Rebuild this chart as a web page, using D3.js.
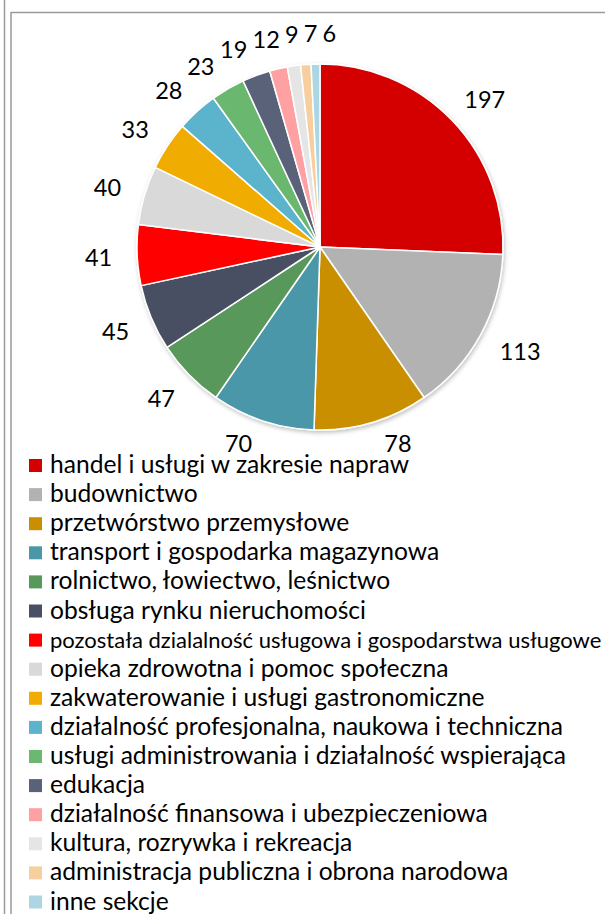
<!DOCTYPE html>
<html>
<head>
<meta charset="utf-8">
<script src="https://cdn.jsdelivr.net/npm/d3@7"></script>
<style>
    html, body { margin: 0; padding: 0; background: #ffffff; }
    svg { display: block; }
</style>
</head>
<body>
<svg id="chart"></svg>
<script>
// sekcje PKD, clockwise from 12 o'clock
const categories = [
    'handel i usługi w zakresie napraw',
    'budownictwo',
    'przetwórstwo przemysłowe',
    'transport i gospodarka magazynowa',
    'rolnictwo, łowiectwo, leśnictwo',
    'obsługa rynku nieruchomości',
    'pozostała dzialalność usługowa i gospodarstwa usługowe',
    'opieka zdrowotna i pomoc społeczna',
    'zakwaterowanie i usługi gastronomiczne',
    'działalność profesjonalna, naukowa i techniczna',
    'usługi administrowania i działalność wspierająca',
    'edukacja',
    'działalność finansowa i ubezpieczeniowa',
    'kultura, rozrywka i rekreacja',
    'administracja publiczna i obrona narodowa',
    'inne sekcje'
];
const values = [197, 113, 78, 70, 47, 45, 41, 40, 33, 28, 23, 19, 12, 9, 7, 6];
const colors = [
    '#d40000', '#b2b2b2', '#c98f00', '#4a97a8', '#58985a', '#4a5064',
    '#ff0000', '#d9d9d9', '#f0ac00', '#5bb4cc', '#6bb870', '#5a627a',
    '#ffa0a2', '#e5e5e5', '#f7cf9f', '#add6e4'
];

class PieChart {
    constructor (selector) {
        this.w = 605;
        this.h = 914;
        this.svg = d3.select(selector)
            .attr('width', this.w)
            .attr('height', this.h);

        this.cx = 320;
        this.cy = 247;
        this.r = 183;
        this.font = 'Lato, "Open Sans", sans-serif';
    }
    draw () {
        this.drawFrame();
        this.drawPie();
        this.drawLabels();
        this.drawLegend();
    }
    drawFrame () {
        let frame = this.svg.append('g').attr('class', 'frame');
        let lines = [
            { x1: 4.5, x2: 4.5, y1: 0, y2: this.h },
            { x1: 11, x2: 11, y1: 12, y2: this.h },
            { x1: 11, x2: this.w, y1: 12.5, y2: 12.5 },
        ];

        frame.selectAll('line')
            .data(lines)
            .enter()
            .append('line')
            .attr('x1', (d) => { return d.x1; })
            .attr('y1', (d) => { return d.y1; })
            .attr('x2', (d) => { return d.x2; })
            .attr('y2', (d) => { return d.y2; })
            .attr('stroke', '#9a9a9a')
            .attr('stroke-width', 1.5);
    }
    pieData () {
        if (this._arcs)
            return this._arcs;

        let pie = d3.pie()
            .value((d) => { return d.value; })
            .sort(null);

        let data = values.map((v, i) => {
            return { value: v, color: colors[i], name: categories[i] };
        });

        this._arcs = pie(data);

        return this._arcs;
    }
    drawPie () {
        let defs = this.svg.append('defs');
        let filter = defs.append('filter')
            .attr('id', 'shadow')
            .attr('x', '-10%').attr('y', '-10%')
            .attr('width', '120%').attr('height', '120%');

        filter.append('feDropShadow')
            .attr('dx', 1)
            .attr('dy', 2)
            .attr('stdDeviation', 2)
            .attr('flood-color', '#000000')
            .attr('flood-opacity', 0.25);

        let arc = d3.arc()
            .innerRadius(0)
            .outerRadius(this.r);

        this.svg.append('g')
            .attr('class', 'pie')
            .attr('transform', 'translate(' + this.cx + ',' + this.cy + ')')
            .attr('filter', 'url(#shadow)')
            .selectAll('path.slice')
            .data(this.pieData())
            .enter()
            .append('path')
            .attr('class', 'slice')
            .attr('d', arc)
            .attr('fill', (d) => { return d.data.color; })
            .attr('stroke', '#ffffff')
            .attr('stroke-width', 1.5)
            .attr('stroke-linejoin', 'round');
    }
    labelPos (b) {
        let rx = 208;
        let ry = 215;
        let maxY = 196; // keep labels above the legend

        let x = (rx + b.w / 2) * Math.sin(b.phi);
        let y = -ry * Math.cos(b.phi) + 1;

        if (y > maxY) {
            // slide along the ellipse, then meet half way
            let phi2 = Math.acos(-(maxY - 1) / ry);
            if (Math.sin(b.phi) < 0)
                phi2 = 2 * Math.PI - phi2;
            let x2 = (rx + b.w / 2) * Math.sin(phi2);
            x = (x + x2) / 2;
            y = maxY;
        }

        return { x: x, y: y };
    }
    drawLabels () {
        let g = this.svg.append('g').attr('class', 'labels');
        let padW = 5;
        let padH = 24;

        let texts = g.selectAll('text.label')
            .data(this.pieData())
            .enter()
            .append('text')
            .attr('class', 'label')
            .attr('font-family', this.font)
            .attr('font-size', 23.5)
            .attr('fill', '#000000')
            .attr('text-anchor', 'middle')
            .text((d) => { return d.data.value; });

        let boxes = [];
        texts.each(function (d) {
            boxes.push({
                node: this,
                w: this.getComputedTextLength(),
                phi: (d.startAngle + d.endAngle) / 2
            });
        });

        // spread crowded labels apart along the pie
        for (let it = 0; it < 400; it++) {
            let moved = false;
            for (let i = 0; i < boxes.length - 1; i++) {
                let a = boxes[i];
                let b = boxes[i + 1];
                let pa = this.labelPos(a);
                let pb = this.labelPos(b);
                let ox = (a.w + b.w) / 2 + padW - Math.abs(pa.x - pb.x);
                let oy = padH - Math.abs(pa.y - pb.y);

                if (ox > 0 && oy > 0) {
                    a.phi -= 0.002;
                    b.phi += 0.002;
                    moved = true;
                }
            }
            if (!moved)
                break;
        }

        for (let b of boxes) {
            let p = this.labelPos(b);
            d3.select(b.node)
                .attr('x', this.cx + p.x)
                .attr('y', this.cy + p.y + 8.5);
        }
    }
    drawLegend () {
        let x0 = 29;
        let y0 = 465.5;
        let step = 29.1;
        let size = 13;

        let rows = this.svg.append('g')
            .attr('class', 'legend')
            .selectAll('g.item')
            .data(this.pieData())
            .enter()
            .append('g')
            .attr('class', 'item')
            .attr('transform', (d, i) => {
                return 'translate(' + x0 + ',' + (y0 + i * step) + ')';
            });

        rows.append('rect')
            .attr('x', 0)
            .attr('y', -size / 2)
            .attr('width', size)
            .attr('height', size)
            .attr('fill', (d) => { return d.data.color; });

        rows.append('text')
            .attr('x', 21)
            .attr('y', 7.5)
            .attr('font-family', this.font)
            .attr('font-size', (d, i) => { return i === 6 ? 22 : 24.6; })
            .attr('fill', '#000000')
            .text((d) => { return d.data.name; });
    }
}

new PieChart('#chart').draw();
</script>
</body>
</html>
